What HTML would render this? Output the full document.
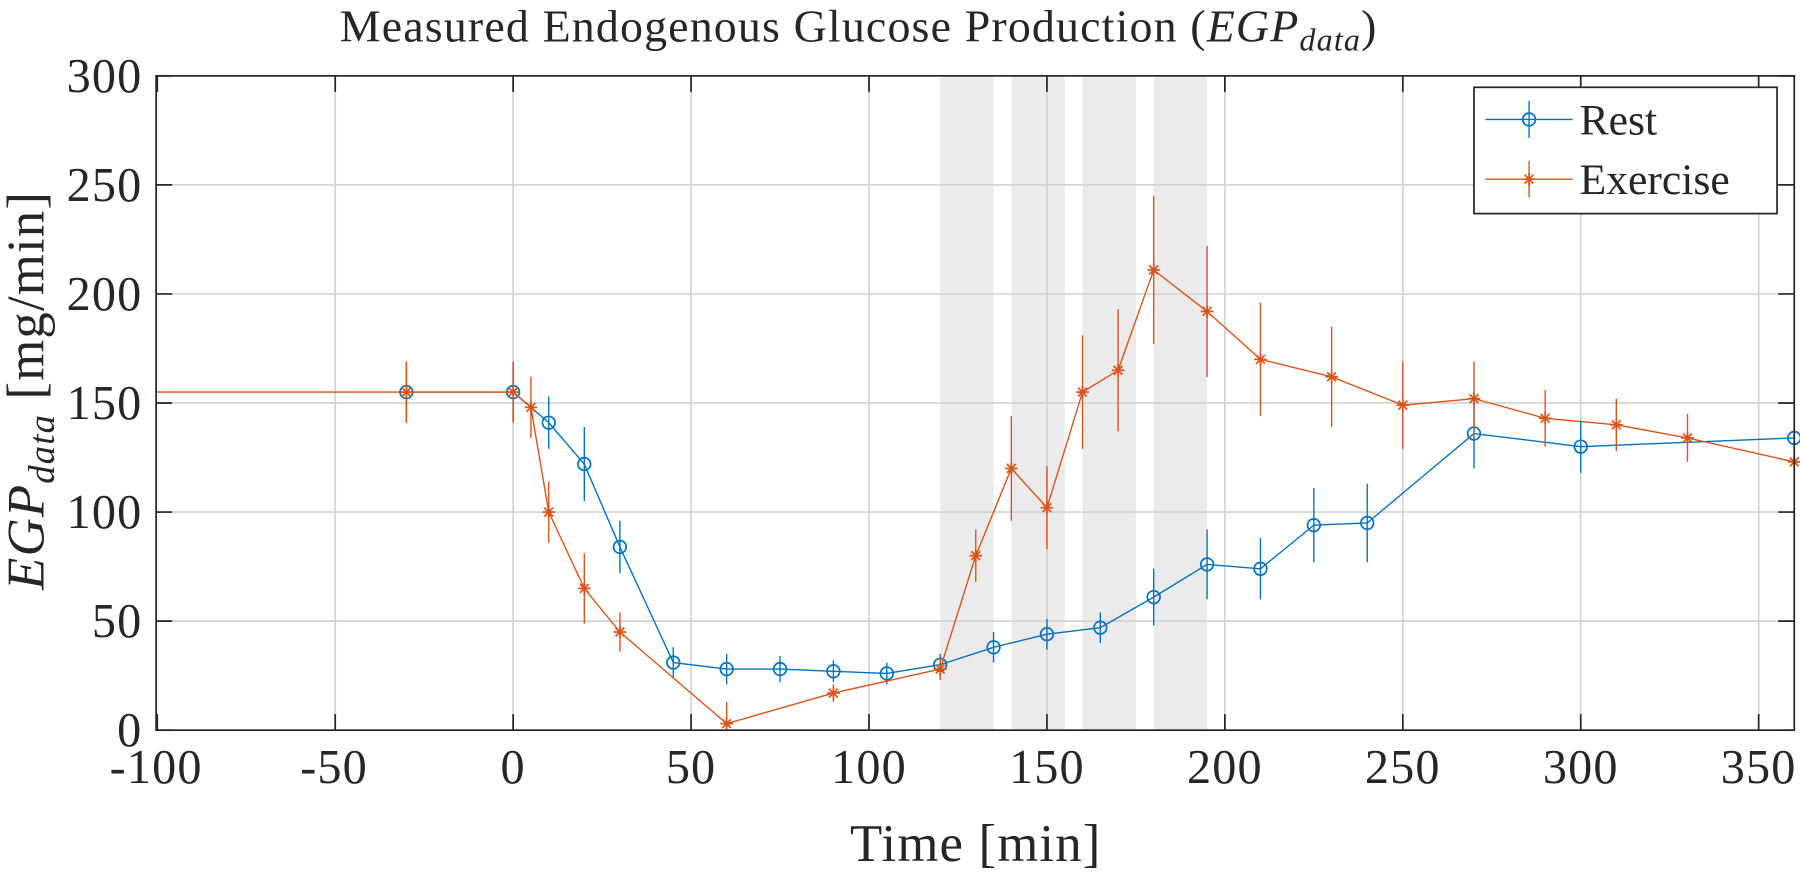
<!DOCTYPE html>
<html><head><meta charset="utf-8"><style>
html,body{margin:0;padding:0;background:#fff;}
svg text{font-family:"Liberation Serif","DejaVu Serif",serif;fill:#262626;}
</style></head><body>
<svg id="s" width="1800" height="868" viewBox="0 0 1568 756" xmlns="http://www.w3.org/2000/svg" font-family="Liberation Serif, serif">
<rect x="0" y="0" width="1568" height="756" fill="#fff"/>
<g id="bands" fill="#ebebeb"></g>
<g id="grid" stroke="#d4d4d4" stroke-width="1.5"></g>
<g id="data"></g>
<rect x="136" y="66" width="1427" height="570" fill="none" stroke="#262626" stroke-width="1.5"/>
<g id="ticks" stroke="#262626" stroke-width="1.5"></g>
<g font-size="42" text-anchor="middle" letter-spacing="1">
<text x="136" y="682">-100</text><text x="291" y="682">-50</text><text x="447" y="682">0</text>
<text x="602" y="682">50</text><text x="757" y="682">100</text><text x="912" y="682">150</text>
<text x="1067" y="682">200</text><text x="1222" y="682">250</text><text x="1377" y="682">300</text>
<text x="1532" y="682">350</text>
</g>
<g font-size="42" text-anchor="end" letter-spacing="1">
<text x="124" y="650">0</text><text x="124" y="555">50</text><text x="124" y="460">100</text>
<text x="124" y="365">150</text><text x="124" y="270">200</text><text x="124" y="175">250</text>
<text x="124" y="80">300</text>
</g>
<text x="850" y="750" font-size="46" text-anchor="middle" letter-spacing="1">Time [min]</text>
<text x="748" y="36" font-size="40" text-anchor="middle" letter-spacing="1">Measured Endogenous Glucose Production (<tspan font-style="italic">EGP</tspan><tspan font-style="italic" font-size="28" dy="8">data</tspan><tspan dy="-8">)</tspan></text>
<text transform="translate(38,340) rotate(-90)" font-size="46" text-anchor="middle" letter-spacing="1"><tspan font-style="italic">EGP</tspan><tspan font-style="italic" font-size="32" dy="9">data</tspan><tspan dy="-9"> [mg/min]</tspan></text>
<rect x="1284" y="76" width="264" height="110" fill="#fff" stroke="#262626" stroke-width="1.5"/>
<line x1="1294" y1="104" x2="1370" y2="104" stroke="#0072BD" stroke-width="1.2"/>
<line x1="1332" y1="88" x2="1332" y2="120" stroke="#0072BD" stroke-width="1.2"/>
<circle cx="1332" cy="104" r="5.5" fill="none" stroke="#0072BD" stroke-width="1.5"/>
<text x="1376" y="117" font-size="38">Rest</text>
<line x1="1294" y1="156" x2="1370" y2="156" stroke="#D95319" stroke-width="1.2"/>
<line x1="1332" y1="140" x2="1332" y2="172" stroke="#D95319" stroke-width="1.2"/>
<g id="legast"></g>
<text x="1376" y="169" font-size="38">Exercise</text>
</svg>
<script>
const NS="http://www.w3.org/2000/svg";
const X=t=>447+t*3.1, Y=v=>636-v*1.9;
function el(p,tag,a){const e=document.createElementNS(NS,tag);for(const k in a)e.setAttribute(k,a[k]);document.getElementById(p).appendChild(e);return e;}
[[120,135],[140,155],[160,175],[180,195]].forEach(b=>el("bands","rect",{x:X(b[0]),y:66,width:X(b[1])-X(b[0]),height:570}));
for(let t=-50;t<=350;t+=50)el("grid","line",{x1:X(t),y1:66,x2:X(t),y2:636});
for(let v=50;v<300;v+=50)el("grid","line",{x1:136,y1:Y(v),x2:1563,y2:Y(v)});
for(let t=-100;t<=350;t+=50){el("ticks","line",{x1:X(t),y1:636,x2:X(t),y2:622});el("ticks","line",{x1:X(t),y1:66,x2:X(t),y2:80});}
for(let v=0;v<=300;v+=50){el("ticks","line",{x1:136,y1:Y(v),x2:150,y2:Y(v)});el("ticks","line",{x1:1563,y1:Y(v),x2:1549,y2:Y(v)});}
const rest=[[-30,155,14],[0,155,14],[10,141,12],[20,122,17],[30,84,12],[45,31,7],[60,28,7],[75,28,6],[90,27,5],[105,26,5],[120,30,5],[135,38,7],[150,44,7],[165,47,7],[180,61,13],[195,76,16],[210,74,14],[225,94,17],[240,95,18],[270,136,16],[300,130,12],[360,134,12]];
const ex=[[-30,155,14],[0,155,14],[5,148,14],[10,100,14],[20,65,16],[30,45,9],[60,3,10],[90,17,4],[120,28,5],[130,80,12],[140,120,24],[150,102,19],[160,155,26],[170,165,28],[180,211,34],[195,192,30],[210,170,26],[230,162,23],[250,149,20],[270,152,17],[290,143,13],[310,140,12],[330,134,11],[360,123,10]];
function ast(p,cx,cy,c){const r=5.5;[[r,0],[0,r],[r*0.7,r*0.7],[r*0.7,-r*0.7]].forEach(d=>el(p,"line",{x1:cx-d[0],y1:cy-d[1],x2:cx+d[0],y2:cy+d[1],stroke:c,"stroke-width":1.5}));}
el("data","line",{x1:X(-100),y1:Y(155),x2:X(-30),y2:Y(155),stroke:"#D95319","stroke-width":1.2});
function series(d,c,m){
 el("data","polyline",{points:d.map(p=>X(p[0])+","+Y(p[1])).join(" "),fill:"none",stroke:c,"stroke-width":1.2});
 d.forEach(p=>{el("data","line",{x1:X(p[0]),y1:Math.min(636,Y(p[1]-p[2])),x2:X(p[0]),y2:Math.max(66,Y(p[1]+p[2])),stroke:c,"stroke-width":1.2});
  if(m=="o")el("data","circle",{cx:X(p[0]),cy:Y(p[1]),r:5.5,fill:"none",stroke:c,"stroke-width":1.5});else ast("data",X(p[0]),Y(p[1]),c);});
}
series(rest,"#0072BD","o");series(ex,"#D95319","*");
ast("legast",1332,156,"#D95319");
</script>
</body></html>
